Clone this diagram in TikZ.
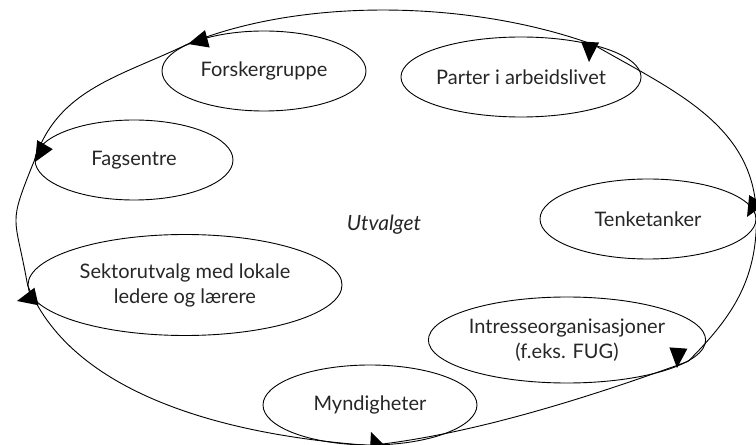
\documentclass[tikz,border=0pt]{standalone}
\usepackage{fontspec}
\setmainfont{Lato}
\usetikzlibrary{shapes.geometric}

\begin{document}
\begin{tikzpicture}[x=1pt,y=1pt,
  actor/.style={draw, ellipse, line width=0.9pt, inner sep=0pt, align=center,
    text=black!85, font=\fontsize{20}{25}\selectfont},
  ring/.style={line width=0.9pt},
  arrowtip/.pic={\fill (0,0) -- (-20,9) -- (-20,-9) -- cycle;}
]
\useasboundingbox (0,0) rectangle (756,445);

% the actors around the committee
\node[actor, minimum width=204pt, minimum height=80pt] (forsk)  at (264,374) {Forskergruppe};
\node[actor, minimum width=196pt, minimum height=80pt] (parter) at (521,368) {Parter i arbeidslivet};
\node[actor, minimum width=198pt, minimum height=80pt] (fag)    at (134,285) {Fagsentre};
\node[actor, minimum width=216pt, minimum height=80pt] (tenke)  at (648,226) {Tenketanker};
\node[actor, minimum width=314pt, minimum height=101pt] (sekt)  at (185,160) {Sektorutvalg med lokale\\ledere og lærere};
\node[actor, minimum width=252pt, minimum height=86pt] (intr)   at (567,105) {Intresseorganisasjoner\\(f.eks. FUG)};
\node[actor, minimum width=214pt, minimum height=80pt] (mynd)   at (370,40)  {Myndigheter};

% the committee in the middle
\node[text=black!85, font=\fontsize{21}{25}\selectfont\itshape] (utv) at (384,220) {Utvalget};

% the ring linking the actors
\draw[ring] (parter.24) to[out=160,in=22,looseness=0.8] (forsk.160);
\draw[ring] (forsk.160) to[out=206,in=72] (fag.west);
\draw[ring] (fag.west)  to[out=248,in=100,looseness=1.5] (sekt.west);
\draw[ring] (sekt.west) to[out=292,in=176,looseness=0.85] (mynd.south);
\draw[ring] (mynd.south) to[out=6,in=200,looseness=0.8] (intr.-10);
\draw[ring] (intr.-10)  to[out=45,in=270] (tenke.east);
\draw[ring] (tenke.east) to[out=90,in=-30] (parter.24);

% arrow heads where the ring meets each actor
\pic[rotate=195] at (188,401) {arrowtip};
\pic[rotate=267] at (589,383) {arrowtip};
\pic[rotate=240] at (35,283)  {arrowtip};
\pic[rotate=193] at (17,144)  {arrowtip};
\pic[rotate=111] at (371,13)  {arrowtip};
\pic[rotate=266] at (677,77)  {arrowtip};
\pic[rotate=240] at (747,228) {arrowtip};
\end{tikzpicture}
\end{document}
